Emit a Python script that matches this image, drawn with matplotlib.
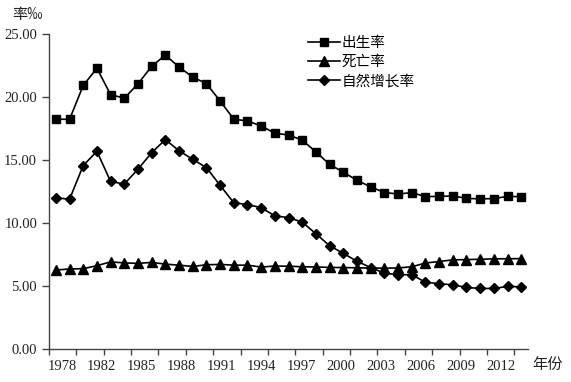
import matplotlib
matplotlib.use("Agg")
import matplotlib.pyplot as plt
import numpy as np
from matplotlib.ticker import FixedLocator, FixedFormatter

plt.rcParams['font.family'] = ['Liberation Serif', 'Noto Sans CJK SC']

years = [1978] + list(range(1980, 2014))
birth = [18.25, 18.21, 20.91, 22.28, 20.19, 19.90, 21.04, 22.43, 23.33, 22.37,
         21.58, 21.06, 19.68, 18.24, 18.09, 17.70, 17.12, 16.98, 16.57, 15.64,
         14.64, 14.03, 13.38, 12.86, 12.41, 12.29, 12.40, 12.09, 12.10, 12.14,
         11.95, 11.90, 11.93, 12.10, 12.08]
death = [6.25, 6.34, 6.36, 6.60, 6.90, 6.82, 6.78, 6.86, 6.72, 6.64,
         6.54, 6.67, 6.70, 6.64, 6.64, 6.49, 6.57, 6.56, 6.51, 6.50,
         6.46, 6.45, 6.43, 6.41, 6.40, 6.42, 6.51, 6.81, 6.93, 7.06,
         7.08, 7.11, 7.14, 7.15, 7.16]
growth = [12.00, 11.87, 14.55, 15.68, 13.29, 13.08, 14.26, 15.57, 16.61, 15.73,
          15.04, 14.39, 12.98, 11.60, 11.45, 11.21, 10.55, 10.42, 10.06, 9.14,
          8.18, 7.58, 6.95, 6.45, 6.01, 5.87, 5.89, 5.28, 5.17, 5.08,
          4.87, 4.79, 4.79, 4.95, 4.92]
series_names = ['出生率', '死亡率', '自然增长率']
tick_years = years[::3]

fig = plt.figure(figsize=(5.71, 3.82), dpi=100)
ax = fig.add_axes([0.0858, 0.087, 0.839, 0.824])

x = list(range(len(years)))
ax.plot(x, birth, color='black', lw=1.2, marker='s', ms=6, label=series_names[0])
ax.plot(x, death, color='black', lw=1.2, marker='^', ms=7, label=series_names[1])
ax.plot(x, growth, color='black', lw=1.2, marker='D', ms=5.5, label=series_names[2])

ax.set_xlim(-0.5, len(years) - 0.5)
ax.set_ylim(0, 25)
ax.set_yticks([0, 5, 10, 15, 20, 25])
ax.set_yticklabels(['%.2f' % v for v in [0, 5, 10, 15, 20, 25]])

# labels sit slightly off the category centres in the original
label_pos = np.linspace(0.44, 32.52, len(tick_years))
ax.xaxis.set_major_locator(FixedLocator(label_pos))
ax.xaxis.set_major_formatter(FixedFormatter([str(y) for y in tick_years]))
ax.xaxis.set_minor_locator(FixedLocator([i - 0.5 for i in range(0, len(years), 2)]))
ax.tick_params(axis='x', which='major', length=0, pad=8, labelsize=10.5, labelcolor='#222222')
ax.tick_params(axis='x', which='minor', length=4, width=1, color='#444444', direction='out')
ax.tick_params(axis='y', length=5, width=1, color='#444444', labelsize=10.5, labelcolor='#222222')

for s in ['top', 'right']:
    ax.spines[s].set_visible(False)
for s in ['left', 'bottom']:
    ax.spines[s].set_color('#444444')
    ax.spines[s].set_linewidth(1)

leg = ax.legend(loc='upper left', bbox_to_anchor=(0.513, 1.035), frameon=False,
                prop={'family': 'Noto Sans CJK SC', 'size': 10.5},
                handlelength=2.2, handletextpad=0.1, labelspacing=0.35)

fig.text(0.021, 0.961, '率‰', fontsize=11, family=['Noto Sans CJK SC'],
         color='#222222', va='center')
fig.text(0.933, 0.047, '年份', fontsize=11, family=['Noto Sans CJK SC'],
         color='#222222', va='center')

fig.savefig('out.png', dpi=100)
